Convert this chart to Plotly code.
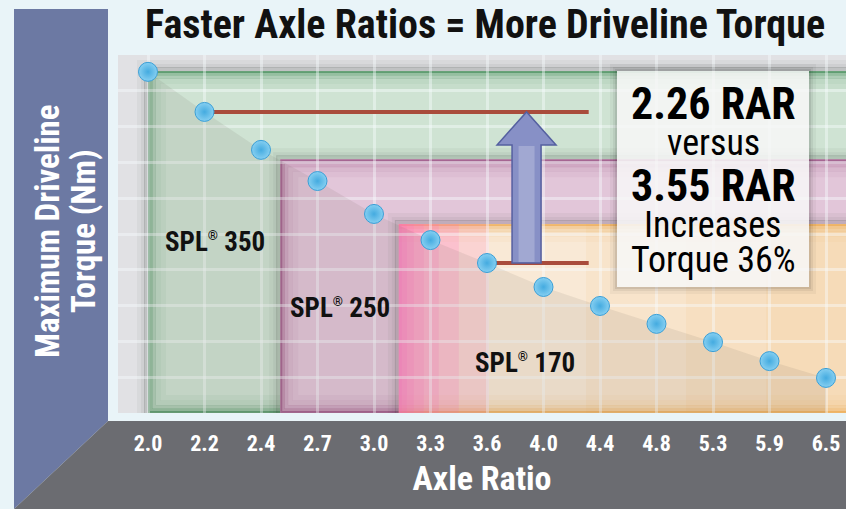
import plotly.graph_objects as go

# ---------------- data ----------------
ratio_labels = ["2.0", "2.2", "2.4", "2.7", "3.0", "3.3", "3.6", "4.0", "4.4", "4.8", "5.3", "5.9", "6.5"]
max_torque = [95.3, 84.1, 73.5, 64.8, 55.6, 48.3, 41.9, 35.2, 29.9, 24.9, 19.8, 14.5, 9.8]  # relative torque
spl_names = ["350", "250", "170"]
spl_start_pos = [0.0, 2.34, 4.44]      # axle-ratio position where each axle range begins
spl_capacity = [95.5, 70.9, 52.8]      # torque capacity of each axle
compare_idx = [1, 6]                   # the 2.26 and 3.55 RAR comparison points
callout_lines = ["2.26 RAR", "versus", "3.55 RAR", "Increases", "Torque 36%"]
title_text = "Faster Axle Ratios = More Driveline Torque"
y_title_lines = ["Maximum Driveline", "Torque (Nm)"]
x_title = "Axle Ratio"

# ---------------- layout geometry (style) ----------------
W, H = 846, 509
ML, MR, MT, MB = 118, 0, 55, 96
PW, PH = W - ML - MR, H - MT - MB
CAT_PX = 56.5
x_lo = -(148 - ML) / CAT_PX
x_hi = x_lo + PW / CAT_PX
Y_RANGE = [0, 100]
dxp = (x_hi - x_lo) / PW
dyp = (Y_RANGE[1] - Y_RANGE[0]) / PH

def px(x):
    return (x - ML) / PW

def py(y):
    return (H - MB - y) / PH

FONT = "'Liberation Sans Narrow', 'Arial Narrow', 'Roboto Condensed', Roboto, sans-serif"
BG = "#e9f4f8"

xs = list(range(len(ratio_labels)))

fig = go.Figure()

# shading below the curve
fig.add_trace(go.Scatter(x=xs, y=max_torque, mode="lines", line=dict(width=0),
                         fill="tozeroy", fillcolor="rgba(95,85,75,0.10)", hoverinfo="skip",
                         showlegend=False))
# points
fig.add_trace(go.Scatter(x=xs, y=max_torque, mode="markers", showlegend=False,
                         marker=dict(size=19, color="#86cff1",
                                     gradient=dict(type="radial", color="#44abe0"),
                                     line=dict(color="#3a9fd7", width=1))))

shapes = []
# left purple panel and bottom gray panel
shapes.append(dict(type="path", xref="paper", yref="paper", layer="below",
                   path=f"M {px(14)},{py(9)} L {px(108)},{py(9)} L {px(108)},{py(421)} L {px(14)},{py(509)} Z",
                   fillcolor="#6c79a3", line=dict(width=0)))
shapes.append(dict(type="path", xref="paper", yref="paper", layer="below",
                   path=f"M {px(108)},{py(421)} L {px(846)},{py(421)} L {px(846)},{py(509)} L {px(14)},{py(509)} Z",
                   fillcolor="#6b6c71", line=dict(width=0)))


def rect(x0, x1, y0, y1, fill="rgba(0,0,0,0)", lcol=None, lw=0, layer="below"):
    return dict(type="rect", xref="x", yref="y", layer=layer, x0=x0, x1=x1, y0=y0, y1=y1,
                fillcolor=fill, line=dict(color=lcol or "rgba(0,0,0,0)", width=lw))


def hline(x0, x1, y, col, lw):
    return dict(type="line", xref="x", yref="y", layer="below", x0=x0, x1=x1, y0=y, y1=y,
                line=dict(color=col, width=lw))


region_fill = ["#cfe3d3", "#e2c6d9", "#f9e9d6"]
region_edge = [(70, 140, 90), (150, 75, 125), (236, 170, 80)]
glow_steps = [(1, 0.75, 2), (3, 0.42, 3), (6, 0.24, 4), (10, 0.12, 5), (15, 0.06, 6)]
XR = x_hi + 1
for i in range(3):
    x0, y1 = spl_start_pos[i], spl_capacity[i]
    r, g, b = region_edge[i]
    # drop shadow on what lies beneath
    for out, a in [(2, 0.16), (5, 0.09), (9, 0.045)]:
        shapes.append(rect(x0 - out * dxp, XR, -1, y1 + out * dyp, lcol=f"rgba(25,35,25,{a})", lw=4))
    shapes.append(rect(x0, XR, 0, y1, fill=region_fill[i]))
    if i < 2:
        for inset, a, lw in glow_steps:
            shapes.append(rect(x0 + inset * dxp, XR, inset * dyp, y1 - inset * dyp,
                               lcol=f"rgba({r},{g},{b},{a})", lw=lw))
    else:
        for w in [80, 160, 260]:
            shapes.append(rect(x_hi - w * dxp, XR, 0, y1, fill="rgba(245,190,105,0.10)"))
        for inset, a, lw in glow_steps:
            shapes.append(hline(x0, XR, y1 - inset * dyp, f"rgba({r},{g},{b},{a})", lw))
            shapes.append(hline(x0, XR, inset * dyp, f"rgba({r},{g},{b},{a})", lw))
        for w in [3, 8, 15, 25, 40, 60, 90]:
            shapes.append(rect(x0, x0 + w * dxp, 0, y1, fill="rgba(255,105,190,0.17)"))

# comparison lines
red_end = 7.8
for k in compare_idx:
    shapes.append(dict(type="line", xref="x", yref="y", layer="between",
                       x0=xs[k], x1=red_end, y0=max_torque[k], y1=max_torque[k],
                       line=dict(color="#a94c3c", width=4)))

# arrow
ac = 6.7
sw, hw = 14.5 * dxp, 29.5 * dxp
y_bot, y_tip = max_torque[compare_idx[1]], max_torque[compare_idx[0]]
y_head = y_tip - 33 * dyp
shapes.append(dict(type="path", xref="x", yref="y", layer="above",
                   path=(f"M {ac - sw},{y_bot} L {ac - sw},{y_head} L {ac - hw},{y_head} L {ac},{y_tip} "
                         f"L {ac + hw},{y_head} L {ac + sw},{y_head} L {ac + sw},{y_bot} Z"),
                   fillcolor="#8790c6", line=dict(color="#5560a0", width=1.5)))
shapes.append(rect(ac - 8 * dxp, ac + 8 * dxp, y_bot + 1 * dyp, y_head - 1 * dyp,
                   fill="rgba(255,255,255,0.22)", layer="above"))

# callout box with soft shadow
bx0, bx1, by0, by1 = 617, 809, 71, 287
for e, a in [(7, 0.04), (4, 0.06), (2, 0.08)]:
    shapes.append(dict(type="rect", xref="paper", yref="paper", layer="above",
                       x0=px(bx0 - e), x1=px(bx1 + e), y0=py(by1 + e), y1=py(by0 - e),
                       fillcolor=f"rgba(0,0,0,{a})", line=dict(width=0)))
shapes.append(dict(type="rect", xref="paper", yref="paper", layer="above",
                   x0=px(bx0), x1=px(bx1), y0=py(by1), y1=py(by0),
                   fillcolor="rgba(255,255,255,0.84)", line=dict(width=0)))

annotations = []
cl_pos = [104, 143, 186, 225, 260]
cl_size = [44, 36, 44, 36, 36]
cl_bold = [True, False, True, False, False]
for t, yy, s, bd in zip(callout_lines, cl_pos, cl_size, cl_bold):
    annotations.append(dict(text=t, xref="paper", yref="paper", x=px(713), y=py(yy),
                            xanchor="center", yanchor="middle", showarrow=False,
                            font=dict(family=FONT, size=s, color="#000000",
                                      weight="bold" if bd else "normal")))

spl_label_pos = [(215, 242), (340, 308), (525, 363)]
for n, (lx, ly) in zip(spl_names, spl_label_pos):
    annotations.append(dict(text=f"SPL<sup><span style='font-size:13px'>®</span></sup> {n}",
                            xref="paper", yref="paper",
                            x=px(lx), y=py(ly), xanchor="center", yanchor="middle", showarrow=False,
                            font=dict(family=FONT, size=27, color="#111111", weight="bold")))

# y axis title (rotated, in purple panel)
for t, lx in zip(y_title_lines, [47, 83]):
    annotations.append(dict(text=t, xref="paper", yref="paper", x=px(lx), y=py(231),
                            xanchor="center", yanchor="middle", textangle=-90, showarrow=False,
                            font=dict(family=FONT, size=33, color="#ffffff", weight="bold")))

# title
annotations.append(dict(text=title_text, xref="paper", yref="paper", x=px(485), y=py(25),
                        xanchor="center", yanchor="middle", showarrow=False,
                        font=dict(family=FONT, size=40, color="#111111", weight="bold")))

GRID = "rgba(248,253,255,0.42)"
fig.update_layout(
    width=W, height=H,
    margin=dict(l=ML, r=MR, t=MT, b=MB),
    paper_bgcolor=BG,
    plot_bgcolor="#e1e1e4",
    shapes=shapes,
    annotations=annotations,
    showlegend=False,
    xaxis=dict(range=[x_lo, x_hi], tickmode="array", tickvals=xs, ticktext=ratio_labels,
               showgrid=True, gridcolor=GRID, gridwidth=3,
               zeroline=False, showline=False, ticks="outside", ticklen=11,
               tickcolor="rgba(0,0,0,0)",
               tickfont=dict(family=FONT, size=22, color="#ffffff", weight="bold"),
               title=dict(text=x_title, standoff=10,
                          font=dict(family=FONT, size=34, color="#ffffff", weight="bold"))),
    yaxis=dict(range=Y_RANGE, tickmode="array", tickvals=list(range(10, 100, 10)),
               showticklabels=False, showgrid=True, gridcolor=GRID,
               gridwidth=3, zeroline=False, showline=False, ticks=""),
)

fig.write_html("out.html", config={"displayModeBar": False},
               post_script=f"document.body.style.margin='0';document.body.style.background='{BG}';")
